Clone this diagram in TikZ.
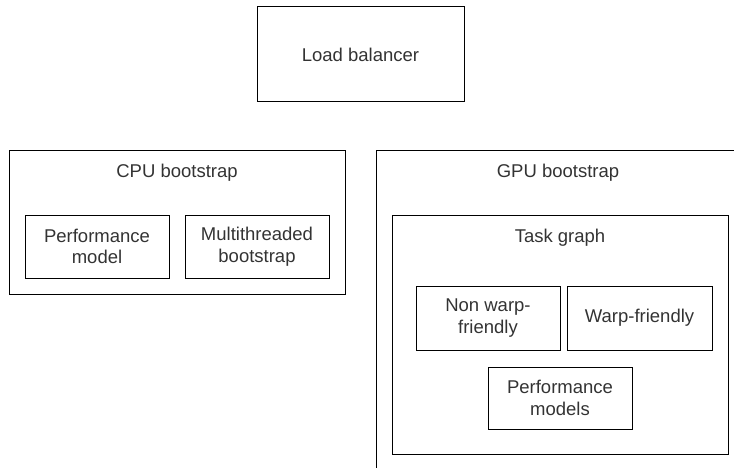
\documentclass[tikz,border=0pt]{standalone}
\usepackage{fontspec}
\setmainfont{Liberation Sans}
\definecolor{txtgrey}{HTML}{333333}
\begin{document}
\begin{tikzpicture}[x=1pt,y=-1pt,
    font=\fontsize{18.5}{21.5}\selectfont]

        \useasboundingbox (0,0) rectangle (734,468);
        \clip (0,0) rectangle (734,468);

        % outer containers
        \begin{scope}[every node/.style={draw, line width=1pt, inner sep=0pt}]
          \node[minimum width=336, minimum height=143] (cpu)  at (177,222.5)   {};
          \node[minimum width=364, minimum height=327] (gpu)  at (558,314.5)   {};
          \node[minimum width=336, minimum height=239] (task) at (560,334.5)   {};
        \end{scope}

        % titles of the containers
        \begin{scope}[every node/.style={text=txtgrey}]
          \node (cput)  at (177,173) {CPU bootstrap};
          \node (gput)  at (558,173) {GPU bootstrap};
          \node (taskt) at (560,238) {Task graph};
        \end{scope}

        % boxes
        \begin{scope}[every node/.style={draw, line width=1pt, text=txtgrey,
            align=center, inner sep=0pt}]
          \node[minimum width=207, minimum height=95] (lb)    at (360.5,54.5) {Load balancer};
          \node[minimum width=144, minimum height=63] (perf)  at (97,246.5)   {Performance\\model};
          \node[minimum width=144, minimum height=63] (multi) at (257,246.5)  {Multithreaded\\bootstrap};
          \node[minimum width=144, minimum height=64] (nwarp) at (488,318)    {Non warp-\\friendly};
          \node[minimum width=145, minimum height=64] (warp)  at (639.5,318)  {Warp-friendly};
          \node[minimum width=144, minimum height=62] (perfm) at (560,398)    {Performance\\models};
        \end{scope}

      \end{tikzpicture}
\end{document}
